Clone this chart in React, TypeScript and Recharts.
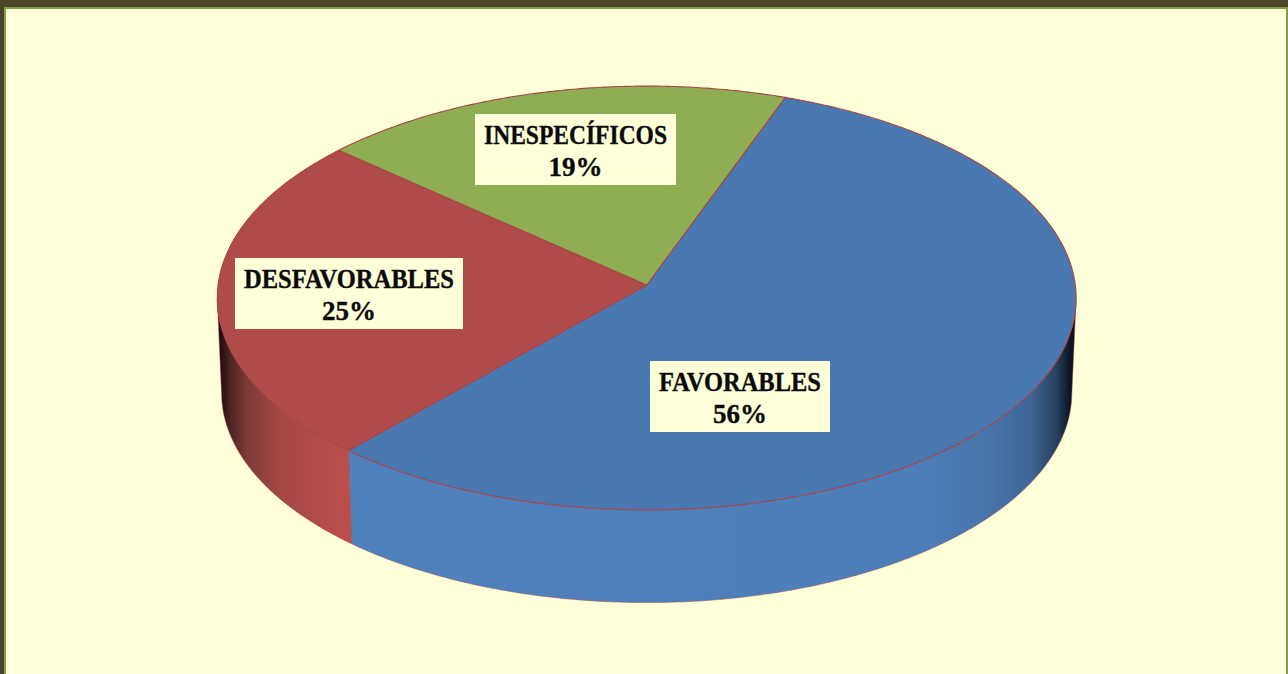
import React from "react";
import { PieChart, Pie } from "recharts";

const categories = ["FAVORABLES", "DESFAVORABLES", "INESPECÍFICOS"];
const shares = [56, 25, 19];
const topColors = ["#4A78B0", "#AF4B48", "#8FAE54"];

const data = categories.map((name, i) => ({ name, value: shares[i], fill: topColors[i] }));

// Layout and style constants
const W = 1288;
const H = 674;
const PIE_CX = 646.7;
const PIE_CY = 285;
const RX = 428.6;
const SQUASH = 0.4925;
const PERSPECTIVE = -0.0613;
const WALL_DY = 95;
const WALL_SCALE = 0.99;
const RIM = "#A84548";
const PAPER = "#FFFFD9";

const LABEL_BOXES: Record<string, { x: number; y: number; w: number }> = {
  FAVORABLES: { x: 740, y: 396.5, w: 180 },
  DESFAVORABLES: { x: 349, y: 293.5, w: 228 },
  "INESPECÍFICOS": { x: 575.5, y: 149.5, w: 201 },
};

const WALL_GRADIENTS: Record<string, { id: string; from: number; to: number; stops: [number, string][] }> = {
  FAVORABLES: {
    id: "wall-fav",
    from: 350,
    to: 1074,
    stops: [
      [0, "#4F81BD"],
      [0.8, "#4D7EB9"],
      [0.88, "#4775AB"],
      [0.94, "#3F6694"],
      [0.977, "#25405F"],
      [0.994, "#0C1622"],
      [1, "#0A121C"],
    ],
  },
  DESFAVORABLES: {
    id: "wall-des",
    from: 219,
    to: 350,
    stops: [
      [0, "#190A0A"],
      [0.08, "#4A2222"],
      [0.22, "#7F3B39"],
      [0.45, "#A34745"],
      [1, "#BB4F4C"],
    ],
  },
};

// Project a point of the pie's unit circle (math angle in degrees) onto the tilted screen plane.
function project(cx: number, cy: number, r: number, deg: number, scale = 1, dy = 0): [number, number] {
  const a = (deg * Math.PI) / 180;
  const X = Math.cos(a);
  const Y = -Math.sin(a);
  const d = 1 + PERSPECTIVE * Y;
  return [cx + (scale * r * X) / d, cy + dy + (scale * r * SQUASH * Y) / d];
}

function arcPoints(cx: number, cy: number, r: number, from: number, to: number, scale = 1, dy = 0) {
  const n = Math.max(2, Math.ceil(Math.abs(to - from) * 2));
  const pts: [number, number][] = [];
  for (let i = 0; i <= n; i++) {
    pts.push(project(cx, cy, r, from + ((to - from) * i) / n, scale, dy));
  }
  return pts;
}

const toPath = (pts: [number, number][]) =>
  pts.map((p, i) => `${i ? "L" : "M"}${p[0].toFixed(2)} ${p[1].toFixed(2)}`).join(" ");

// Visible front of the wall runs over math angles from 184 to 356 degrees.
function clipFront(a: number, b: number): [number, number] | null {
  let hi = a;
  let lo = b;
  while (lo < 0) {
    lo += 360;
    hi += 360;
  }
  const end = Math.min(hi, 356);
  const start = Math.max(lo, 184);
  if (lo >= 360) return null;
  return end > start ? [start, end] : null;
}

function SliceShape(props: any) {
  const { cx, cy, outerRadius, startAngle, endAngle, fill, name } = props;
  const label = name ?? props.payload?.name;
  const top = arcPoints(cx, cy, outerRadius, startAngle, endAngle);
  const facePath = `M${cx} ${cy} ${toPath(top).replace(/^M/, "L")} Z`;
  const grad = WALL_GRADIENTS[label];
  const range = grad ? clipFront(startAngle, endAngle) : null;
  let wall = null;
  if (grad && range) {
    const upper = arcPoints(cx, cy, outerRadius, range[0], range[1]);
    const lower = arcPoints(cx, cy, outerRadius, range[1], range[0], WALL_SCALE, WALL_DY);
    wall = (
      <g>
        <defs>
          <linearGradient id={grad.id} gradientUnits="userSpaceOnUse" x1={grad.from} x2={grad.to} y1={0} y2={0}>
            {grad.stops.map(([o, c]) => (
              <stop key={o} offset={o} stopColor={c} />
            ))}
          </linearGradient>
        </defs>
        <path d={`${toPath(upper)} ${toPath(lower).replace(/^M/, "L")} Z`} fill={`url(#${grad.id})`} stroke={RIM} strokeOpacity={0.55} strokeWidth={0.8} />
      </g>
    );
  }
  return (
    <g>
      {wall}
      <path d={facePath} fill={fill} stroke={RIM} strokeWidth={1.1} />
    </g>
  );
}

function SliceLabel(props: any) {
  const box = LABEL_BOXES[props.name];
  if (!box) return null;
  const font = {
    fontFamily: "'Liberation Serif', serif",
    fontWeight: 700,
    fontSize: 27,
    fill: "#0A0A0A",
    stroke: "#0A0A0A",
    strokeWidth: 0.35,
  };
  return (
    <g>
      <rect x={box.x - box.w / 2} y={box.y - 35.5} width={box.w} height={71} fill={PAPER} />
      <text x={box.x} y={box.y - 5.5} textAnchor="middle" textLength={box.w - 18} lengthAdjust="spacingAndGlyphs" {...font}>
        {props.name}
      </text>
      <text x={box.x} y={box.y + 26} textAnchor="middle" {...font}>
        {`${props.value}%`}
      </text>
    </g>
  );
}

export default function App() {
  return (
    <div style={{ position: "absolute", left: 0, top: 0, width: W, height: H, overflow: "hidden", background: PAPER }}>
      <div style={{ position: "absolute", left: 0, top: 0, width: W, height: 7, background: "#4A452A" }} />
      <div style={{ position: "absolute", left: 0, top: 0, width: 4, height: H, background: "#4A452A" }} />
      <div style={{ position: "absolute", left: 4, top: 7, width: W - 4, height: 2, background: "#7F9F4A" }} />
      <div style={{ position: "absolute", left: 4, top: 7, width: 2, height: H - 7, background: "#7F9F4A" }} />
      <div style={{ position: "absolute", left: W - 2, top: 7, width: 2, height: H - 7, background: "#7F9F4A" }} />
      <PieChart width={W} height={H} margin={{ top: 0, right: 0, bottom: 0, left: 0 }} style={{ position: "absolute", left: 0, top: 0 }}>
        <Pie
          data={data}
          dataKey="value"
          nameKey="name"
          cx={PIE_CX}
          cy={PIE_CY}
          innerRadius={0}
          outerRadius={RX}
          startAngle={70}
          endAngle={-290}
          stroke="none"
          isAnimationActive={false}
          shape={SliceShape}
          label={SliceLabel}
          labelLine={false}
          rootTabIndex={-1}
        />
      </PieChart>
    </div>
  );
}
